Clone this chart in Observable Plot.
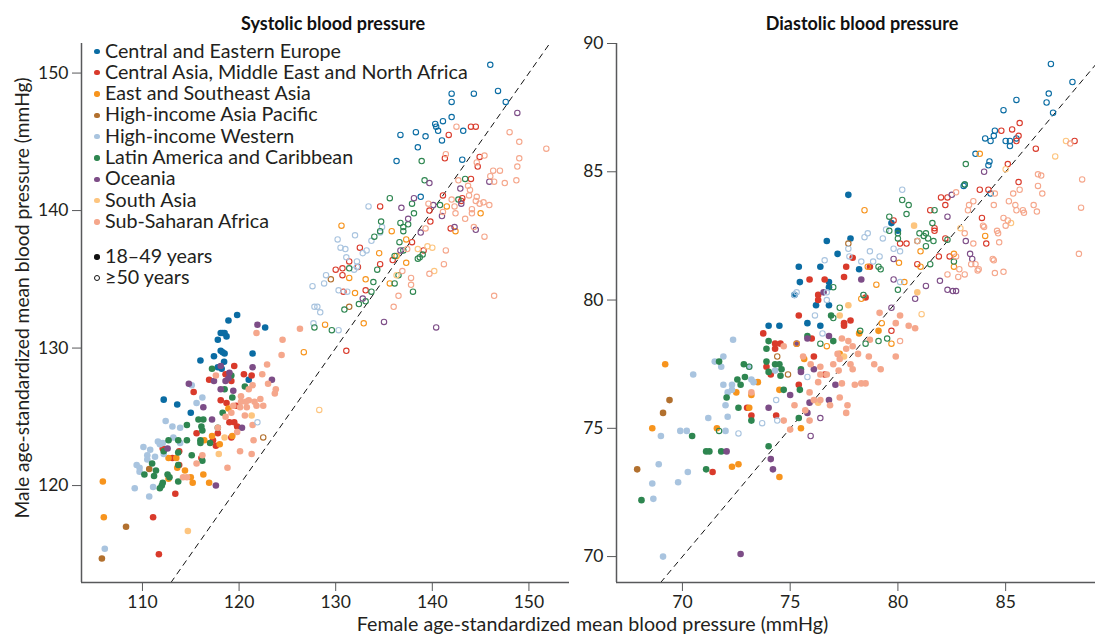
<!DOCTYPE html>
<html><head><meta charset="utf-8">
<script src="https://cdn.jsdelivr.net/npm/d3@7"></script>
<script src="https://cdn.jsdelivr.net/npm/@observablehq/plot@0.6"></script>
<style>
html,body{margin:0;padding:0;background:#fff;}
#root{position:relative;width:1095px;height:634px;overflow:hidden;font-family:Lato,sans-serif;color:#231f20;}
#root svg{position:absolute;top:0;background:transparent;overflow:visible;font-family:Lato,sans-serif;}
.t{position:absolute;white-space:nowrap;}
.title{font-weight:700;font-size:18px;top:12px;transform:translateX(-50%);color:#111;}
.xl{font-size:19.7px;top:612px;left:592.5px;transform:translateX(-50%);}
.lg{font-size:19.7px;left:105px;line-height:20px;}
.sw{position:absolute;border-radius:50%;box-sizing:border-box;}
</style></head><body><div id="root"></div>
<script>
const regions=["Central and Eastern Europe","Central Asia, Middle East and North Africa","East and Southeast Asia","High-income Asia Pacific","High-income Western","Latin America and Caribbean","Oceania","South Asia","Sub-Saharan Africa"];
const colors=["#0a6ca3","#d93a2b","#f7941d","#b2702e","#a9c4df","#2e8650","#7d4d87","#fdc57f","#f5a78c"];
const ageLabels=["18–49 years","≥50 years"];
const xTicksSys=[110,120,130,140,150], yTicksSys=[120,130,140,150];
const xTicksDia=[70,75,80,85], yTicksDia=[70,75,80,85,90];

// Systolic, 18-49 years: [female, male]
const sysYoungCEE=[[119.8,132.4],[118.9,132],[122.7,131.5],[118.3,131.1],[118.1,131.1],[118.5,131.1],[118.7,130.85],[117.8,130.6],[118.1,129.8],[118.3,129.7],[118.5,129.6],[121.4,129.6],[117.4,129.4],[116,129.1],[118.45,129],[117.8,128.6],[118.2,128.5],[121,127.7],[112.2,126.25],[113.6,125.9],[115,125.3]];
const sysYoungCMENA=[[119.5,128.7],[118.6,128.1],[120.5,128.1],[121.3,128],[119.2,127.6],[116.9,127.7],[115.3,126.8],[118.1,126.2],[118.7,126],[119.7,125.8],[119,124.6],[119.5,124.6],[119.8,124.3],[115.6,123.8],[117.8,123.8],[117.3,123.3],[117.6,122.9],[119.2,123.5],[112.1,122.7],[113.8,122.5],[113.1,122],[113.8,121.5],[116.1,122],[113.4,119.4],[111.1,117.7],[111.7,115]];
const sysYoungESEA=[[118.9,125.6],[117.2,123.6],[119.3,123.6],[118,123],[116.4,123.3],[112.7,122],[113.5,122],[113.6,121.3],[114.4,121.1],[112.7,120.5],[115,120.6],[115.2,120.2],[116.9,120.2],[116.3,120.8],[105.9,120.3],[106,117.7]];
const sysYoungHIAP=[[110.7,121.2],[108.3,117],[105.8,114.7]];
const sysYoungHIW=[[115.1,127.3],[116.2,126.4],[115.6,126],[112.4,124.7],[113.1,124.3],[113.9,124.2],[113.2,123.5],[111.6,123.2],[112.1,123.1],[113.9,123.1],[110.1,122.8],[110.8,122.6],[112.2,122.3],[110.5,122.2],[110.5,121.9],[111.3,122.1],[109.4,121.5],[109.7,121.3],[109.7,121],[111.1,119.9],[109.2,119.8],[110.7,119.2],[106.1,115.4],[111.8,123]];
const sysYoungLAC=[[117.2,128.5],[119.2,128],[118.5,127],[120.6,127.2],[119.3,126.4],[118.3,125.3],[115.8,124.8],[116.3,124.8],[116.1,124.3],[116.2,124],[114.6,124.4],[117.8,124.2],[113.7,123.3],[114.6,123.3],[112.7,123.3],[116,123.3],[116,123.1],[117,123.1],[113.7,122.4],[112.2,122.5],[115.1,122.2],[116.2,121.8],[113.7,121.5],[111,121.6],[111.4,121.1],[110.2,120.8],[111.2,120.7],[112.6,120.8],[112.8,120.6],[113.7,120.3],[112.1,120.2],[112,120],[111.8,119.8]];
const sysYoungOC=[[121.9,131.7],[114.8,127.4],[118.1,128.7],[121.4,128.6],[117.4,127.6],[119,128.2],[118.9,127.8],[118.6,127.6],[123.4,127.7],[119.4,126.9],[118.1,127],[116.3,125.7],[117.2,124.8],[120.3,124.2],[112.6,122.7],[117.6,120]];
const sysYoungSA=[[121.3,125.1],[118.5,123.5],[117.9,122.3],[114.7,116.7]];
const sysYoungSSA=[[121.8,131.1],[126.3,131.4],[124.5,130.6],[124.4,129.5],[122.9,128.8],[122.4,128.1],[117.6,128],[123,127.4],[121.4,127.3],[121,127],[123.8,127],[123.7,126.7],[120.2,126.5],[122.2,126.3],[120.2,126.1],[120.7,126.1],[121,126.2],[121.6,126.1],[119.4,125.8],[120.1,125.7],[120.8,125.7],[121.8,125.8],[122.5,125.8],[119.2,125.3],[118.6,125],[120.6,125.1],[121.4,124.4],[117.8,124.2],[119.8,123.9],[121.5,123.3],[116.2,122.2],[115.6,121.6],[120.1,122.5],[121.3,122.3],[118.8,121.3],[114.2,120.6],[114.6,120.6]];

// Systolic, 50+ years
const sysOldCEE=[[146,150.6],[142,148.5],[144.3,148.5],[146.8,148.7],[142,147.9],[147.6,147.9],[142,146.8],[141.1,146.5],[140.3,146.3],[140.4,146.1],[140.6,145.8],[143.2,145.8],[138.3,145.7],[136.7,145.5],[139.3,145.4],[141,145.1],[138.5,144.6],[136.3,143.6],[143.1,143.7],[138.8,141]];
const sysOldCMENA=[[144,146.1],[144.5,146.1],[141.7,145.5],[141.3,143.8],[144.9,143.9],[144.7,143.2],[144,142.3],[141.1,141.1],[143.1,140.9],[143,140.7],[134.6,140.3],[139.7,140],[139.8,139.2],[141.9,138.7],[137.9,137.7],[132.5,137.3],[139.1,137.1],[135.9,136.4],[134.6,136.1],[131.4,136.3],[130,135.7],[130.7,135.8],[130.7,135.3],[132.3,135.9],[130.8,134.1],[133.1,134.2],[131.1,129.8]];
const sysOldESEA=[[130.6,138.9],[145,139.8],[141.5,140.3],[142.4,138.5],[135.8,138.5],[137.3,137.9],[134.5,136.9],[136.3,136.7],[137.3,136.2],[131.4,135.1],[133.1,135],[135.6,134.7],[132,134],[128.9,131.7],[132.9,131.8],[126.7,129.7]];
const sysOldHIAP=[[129.5,135],[131.4,133],[122.5,123.5]];
const sysOldHIW=[[133.4,140.3],[132,138.2],[130.2,137.9],[134.8,138.8],[134.6,138.4],[133.7,137.8],[130.5,137.3],[131,137.2],[133.2,137.1],[132.8,136.9],[131.1,136.6],[132.2,136.3],[132.2,135.9],[131.9,135.7],[129,135.3],[128.8,134.7],[127.6,134.5],[130.3,134.2],[131.2,134.1],[127.8,133],[128.1,133],[128.4,132.6],[127.7,131.8],[130.3,131.3],[121.9,124.6]];
const sysOldLAC=[[138.9,143.6],[139.2,142.2],[143.4,142.3],[142.7,140.8],[135.6,140.9],[137.9,140.5],[140.8,140.4],[138.1,139.8],[134.7,139.2],[136.7,139.1],[137.5,139],[137,138.8],[137,138.5],[134.6,138.5],[134,138.1],[136.6,137.7],[137,137.1],[136.1,136.7],[139,136.8],[138.7,136.6],[138.5,136.5],[134.3,135.7],[131.4,135.8],[136.5,135.3],[133.9,134.8],[136.1,134.7],[138,134.1],[133.7,134.1],[133.1,133.4],[132.4,133.2],[130.9,132.8],[127.8,131.5],[129.6,131.3]];
const sysOldOC=[[148.8,147.1],[139.7,142],[142.9,141.6],[145.9,142.1],[138.1,140.9],[136.8,140.2],[140.1,140.4],[143,140.5],[137.5,139.4],[141,139.6],[142.3,138.8],[144.5,138.6],[138.8,138.4],[136.7,137.1],[132.8,133.6],[135,131.9],[140.4,131.5]];
const sysOldSA=[[139.5,137.4],[138.5,137.2],[140,137.3],[140.2,135.6],[136.3,135.3],[128.3,125.5]];
const sysOldSSA=[[142.5,146.1],[148,145.7],[149,145],[151.8,144.5],[141.4,144.1],[145.4,144],[149,143.8],[148.8,143.2],[144.6,143.5],[146.3,142.9],[147,142.9],[146,142.5],[146.4,142.1],[147.5,142],[148.7,142.2],[142.7,142.2],[143.7,141.8],[143.9,141.5],[143.8,141.1],[144.6,141],[144.5,140.7],[145.3,140.6],[144.9,140.5],[145.9,140.4],[142,140.8],[142.3,140.3],[139.6,140.5],[141.1,139.9],[142.4,139.8],[144.1,140.1],[144.1,139.8],[143.4,139.4],[139.3,138.7],[144.3,138.8],[145.4,138.1],[137.4,137.2],[141.4,137.1],[141.2,136.1],[136.9,135.6],[137.8,135.1],[137.8,134.6],[136.5,133.8],[136,133],[146.4,133.8],[139.7,135.4]];

// Diastolic, 18-49 years
const diaYoungCEE=[[76.7,82.3],[77.8,82.4],[77.2,81.8],[75.4,81.3],[76.4,81.3],[78.2,81.2],[75.45,80.7],[76.8,80.7],[76.8,80.5],[75.2,80.2],[76.2,79.8],[76.8,79.8],[75.8,79.1],[76.4,79],[74,79],[74.5,79],[80,82.7],[79.7,83],[77.7,84.1]];
const diaYoungCMENA=[[77.9,81.65],[77.6,81.3],[77.5,80.9],[78.7,81.3],[75.9,80.8],[76.6,80.8],[76.3,80.2],[76.3,80],[75.4,79.4],[78.5,80.1],[73.75,78.7],[77.8,79.2],[77.5,79.1],[77.5,79],[76,78.5],[74.3,78.3],[74.55,78.3],[74.3,78.1],[73.9,77.4],[74.1,77.1],[76.1,77.8],[76.6,77.1],[75.4,76.7],[74.35,75.5],[73,75.8],[73.2,75.5],[71.4,73.3]];
const diaYoungESEA=[[69.2,77.5],[73.5,76.8],[72.5,76.4],[73.2,76.3],[74.5,76.5],[73.1,75.8],[71.6,75],[68.6,75],[75.5,75],[72.3,73.5],[72.6,73.6],[74.5,73.1],[75.65,77.7],[77.3,77.9],[79.1,78.8],[78.2,78.7]];
const diaYoungHIAP=[[69.4,76.1],[69.1,75.6],[67.9,73.4]];
const diaYoungHIW=[[72.35,78.45],[71.9,77.8],[71.5,77.6],[71.8,77.4],[73.1,77.4],[70.5,77.1],[74.3,77.25],[73.2,76.9],[73.3,76.8],[72.3,76.7],[71.9,76.7],[72.3,76.5],[72.1,76.4],[72,75.9],[72.1,75.45],[71.2,75.4],[69.9,74.9],[70.2,74.9],[72,74.9],[69,74.7],[68.9,73.6],[70.25,73.3],[69.8,72.9],[68.6,72.85],[68.65,72.25],[69.1,70]];
const diaYoungLAC=[[71.7,77.6],[72.85,77.5],[72.9,77],[72.55,76.9],[72.7,76.7],[72.05,76.2],[72.6,75.8],[73.2,75.3],[70.45,74.7],[71.1,74.1],[71.25,74.1],[71.8,74.1],[71.1,73.4],[68.1,72.2],[74,78.4],[73.9,78.1],[73.9,77.6],[74.3,77.5],[74.5,77.5],[74.6,77.3],[74,77.2],[74.55,77.05],[75.5,77.3],[74.7,76.5],[75.45,76.5],[75.4,75.4],[74,74.3],[77,78.4],[75.8,78.6],[76.9,79.4]];
const diaYoungOC=[[75.3,78.3],[75.8,78.5],[76.8,78.6],[75.5,77.2],[76.1,77.3],[75,76.3],[75.9,76],[76.8,76.1],[74,75.8],[75.8,75.6],[77.1,76.7],[72.05,74.1],[74.1,73.8],[74.2,73.4],[72.7,70.1],[78.3,80.8],[76.55,80.3]];
const diaYoungSA=[[77.7,79.8],[77.3,79.4],[80.75,82.9],[80.9,80.3],[77.5,77.8],[76.3,76]];
const diaYoungSSA=[[79.9,79.1],[80.5,79],[80.8,78.9],[78.7,78.45],[77.4,78.5],[77.7,78.4],[77.9,78.2],[77.6,78.1],[77.2,77.9],[78.15,77.9],[78.65,77.8],[79.9,77.8],[75.6,77.8],[77.3,77.7],[77.8,77.5],[77,77.5],[78.9,77.5],[76.4,77.4],[75.95,77.5],[79.2,77.3],[77.9,77.3],[77.25,77.25],[76.4,77.1],[76.7,77.1],[76.3,76.8],[77.4,76.75],[78,76.7],[78.3,76.75],[78.5,76.75],[75.9,76.4],[77.3,76.2],[76.4,76.1],[76.1,76.1],[77.66,75.9],[76.85,75.9],[75.2,75.9],[75.7,75.7],[77.6,75.6],[75.9,75.3],[74.7,75.3],[75,74.95],[74.7,78.2],[79.15,79.5],[80.1,79.4],[73.2,76.4]];

// Diastolic, 50+ years
const diaOldCEE=[[87.1,89.2],[88.1,88.5],[87,88.05],[85.5,87.8],[86.9,87.7],[87.2,87.3],[84.9,87.4],[84.5,86.6],[84.45,86.4],[84.05,86.3],[84.3,86.2],[85,86.2],[85.2,86.2],[85.5,86.3],[85.2,86],[83.6,85.7],[84.25,85.4],[84.2,85.25],[83.1,84.5],[83.05,84.45],[84.3,84.15]];
const diaOldCMENA=[[85.65,86.9],[85.3,86.65],[84.8,86.6],[85.6,86.4],[85.5,86.2],[88.2,86.2],[86.4,85.9],[85.1,85.3],[85.6,84.6],[83.8,84.3],[84.2,84.3],[82,84],[82.3,84],[82.2,83.7],[81.5,83.5],[83.9,83.2],[79.8,83.1],[81.7,82.8],[81.7,82.7],[80.1,82.2],[80.4,82.2],[84.1,82.2],[82.2,82.4],[81.9,81.7],[82.4,81.7],[80.9,81.4],[79.7,78.8]];
const diaOldESEA=[[78.45,83.5],[83.8,85.7],[81.05,81.9],[82.6,81.8],[80.05,81.45],[78.6,81.3],[81.05,81.3],[82.6,81.3],[79,80.6],[80.3,80.7],[84.05,82.5],[78.3,80.05],[79.25,79.1],[79.7,78.3],[76.7,78.2],[75.3,78.3]];
const diaOldHIAP=[[77.7,82.2],[74.4,77.8],[74.9,77.1]];
const diaOldHIW=[[76.6,81.55],[78.45,82.45],[78.6,82.6],[79.3,82.4],[79.45,82.75],[77.7,82],[77.75,81.7],[78.7,81.9],[78.3,81.5],[79.15,81.7],[78.85,81.5],[79.8,82],[80.1,81.9],[75.3,80.3],[75.2,80.2],[76.7,80.3],[76.7,80],[76.15,79.4],[76.5,78.7],[78.4,80.2],[80.1,80.7],[80.2,84.3],[75.8,77],[74.35,76.1],[74.4,75.3],[73.7,75.2],[72.6,74.8]];
const diaOldLAC=[[83.15,85.3],[83.1,84.5],[80.2,83.9],[80.5,83.7],[80.4,83.35],[79.6,83.25],[81.7,83.5],[81.6,83],[79.6,82.7],[80,82.6],[80,82.4],[81,82.6],[81.3,82.6],[81.4,82.4],[80.9,82.3],[81.2,82.5],[81.65,82.3],[82.3,82.35],[81.3,82.1],[82.6,81.5],[81.5,81.4],[79.2,81.2],[79.1,81.3],[77,80.5],[77.3,79.7],[77,79.3],[80,80.4],[78.25,78.8],[79.5,78.5],[79.1,78.4],[78.5,78.3],[76.4,78.3],[78.4,80.2],[73.1,77.4],[71.7,74.9]];
const diaOldOC=[[84,85],[82.5,84.1],[82.3,83.25],[83.15,82.3],[83.35,81.8],[83.45,81.6],[79.8,81.6],[79.8,80.8],[81.95,80.75],[81.3,80.55],[82.3,80.4],[82.55,80.35],[82.7,80.35],[80.8,80.05],[79.7,79.7],[76.4,75.4],[75.95,74.7]];
const diaOldSA=[[87.3,85.6],[87.8,86.2],[85,85.1],[82.9,82.8],[85.25,83],[81.1,79.45]];
const diaOldSSA=[[88.55,84.7],[88.5,83.6],[88.4,81.8],[86.5,84.9],[86.65,84.85],[86.5,84.45],[86.7,84.15],[82.7,84.2],[84.5,84.15],[85.35,84.15],[85.65,84.3],[85.15,83.85],[85.45,83.7],[85.5,83.5],[85.8,83.5],[85.85,83.4],[86.3,83.7],[86.45,83.45],[84.45,83.7],[83.5,83.85],[83.3,83.7],[83.25,83.5],[84.9,83.2],[85.1,83.1],[85,82.9],[83.95,82.9],[84,82.85],[84.6,82.7],[84.65,82.6],[83.1,82.6],[83.5,82.2],[84.7,82.25],[80.9,82.3],[82.7,81.7],[83.6,81.4],[83.4,81.4],[84.4,81.6],[84.45,81.55],[83.75,81.2],[83.7,81.15],[82.85,81.2],[82.3,81],[82.8,80.9],[83.1,81],[84.5,81.05],[84.9,81.1],[80.1,78.4],[88,86.1]];

const table=(lists)=>lists.flatMap((l,i)=>l.map(([x,y])=>({x,y,region:regions[i]})));
const sysYoung=table([sysYoungCEE,sysYoungCMENA,sysYoungESEA,sysYoungHIAP,sysYoungHIW,sysYoungLAC,sysYoungOC,sysYoungSA,sysYoungSSA]);
const sysOld=table([sysOldCEE,sysOldCMENA,sysOldESEA,sysOldHIAP,sysOldHIW,sysOldLAC,sysOldOC,sysOldSA,sysOldSSA]);
const diaYoung=table([diaYoungCEE,diaYoungCMENA,diaYoungESEA,diaYoungHIAP,diaYoungHIW,diaYoungLAC,diaYoungOC,diaYoungSA,diaYoungSSA]);
const diaOld=table([diaOldCEE,diaOldCMENA,diaOldESEA,diaOldHIAP,diaOldHIW,diaOldLAC,diaOldOC,diaOldSA,diaOldSSA]);

const AX="#58595b";
function panel({young,old,xd,yd,xt,yt,width,ml,mr,diag,extra=[]}){
  return Plot.plot({
    width,height:634,marginLeft:ml,marginRight:mr,marginTop:43,marginBottom:52,
    x:{domain:xd},y:{domain:yd},
    color:{domain:regions,range:colors},
    style:{background:"transparent"},
    marks:[
      Plot.line(diag,{x:d=>d,y:d=>d,stroke:"#111",strokeWidth:1,strokeDasharray:"5.5,5"}),
      Plot.dot(young,{x:"x",y:"y",r:3.3,fill:"region",stroke:null}),
      Plot.dot(old,{x:"x",y:"y",r:2.7,stroke:"region",strokeWidth:1.1,fill:"none"}),
      Plot.ruleX([xd[0]],{stroke:AX,strokeWidth:1.5}),
      Plot.ruleY([yd[0]],{stroke:AX,strokeWidth:1.5}),
      Plot.axisX({ticks:xt,tickSize:9,tickPadding:4,label:null,fontSize:17.5,stroke:AX,color:"#231f20",tickFormat:d=>d}),
      Plot.axisY({ticks:yt,tickSize:9,tickPadding:4,label:null,fontSize:17.5,stroke:AX,color:"#231f20",tickFormat:d=>d}),
      ...extra
    ]
  });
}
const root=document.getElementById("root");
const left=panel({young:sysYoung,old:sysOld,xd:[103.69,154.2],yd:[112.95,152.15],xt:xTicksSys,yt:yTicksSys,width:575,ml:81,mr:6,diag:[112.95,152.15],
  extra:[Plot.text(["Male age-standardized mean blood pressure (mmHg)"],{frameAnchor:"left",textAnchor:"middle",rotate:-90,dx:-59,dy:-15,fontSize:19.2,fill:"#231f20"})]});
left.style.left="0px";
const right=panel({young:diaYoung,old:diaOld,xd:[66.94,89.17],yd:[68.99,90],xt:xTicksDia,yt:yTicksDia,width:525,ml:46,mr:0,diag:[68.99,89.17]});
right.style.left="570px";
root.append(left,right);

function addText(cls,txt,pos){const e=document.createElement("div");e.className="t "+cls;e.textContent=txt;Object.assign(e.style,pos||{});root.append(e);return e;}
addText("title","Systolic blood pressure",{left:"333px"});
addText("title","Diastolic blood pressure",{left:"862px"});
addText("xl","Female age-standardized mean blood pressure (mmHg)");
function sw(cy,fill,stroke){const e=document.createElement("div");e.className="sw";const s=stroke?6:5.4;
  Object.assign(e.style,{left:(97-s/2)+"px",top:(cy-s/2)+"px",width:s+"px",height:s+"px",background:fill,border:stroke?("1px solid "+stroke):"none"});root.append(e);}
regions.forEach((r,i)=>{const cy=51.5+i*21.3;addText("lg",r,{top:(cy-11)+"px"});sw(cy,colors[i]);});
ageLabels.forEach((r,i)=>{const cy=257+i*21.3;addText("lg",r,{top:(cy-11)+"px"});i?sw(cy,"transparent","#111"):sw(cy,"#111");});
</script></body></html>
